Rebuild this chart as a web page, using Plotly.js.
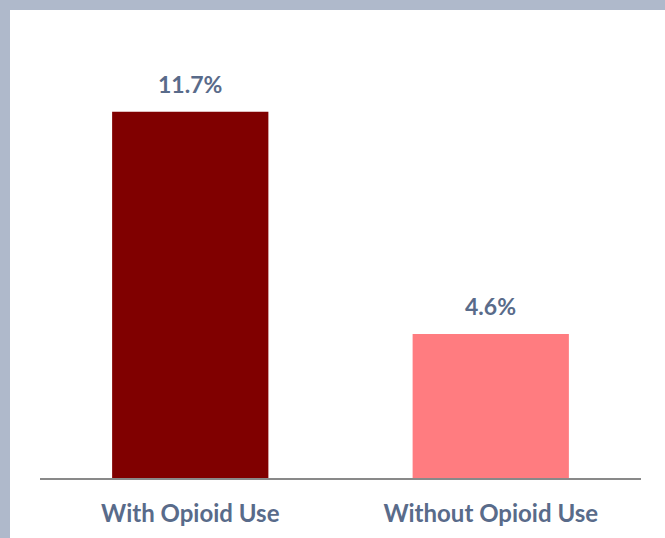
<!DOCTYPE html>
<html>
<head>
<meta charset="utf-8">
<script src="https://cdn.plot.ly/plotly-3.0.1.min.js"></script>
<style>
  html, body { margin: 0; padding: 0; background: #AFB9CB; width: 665px; height: 538px; overflow: hidden; }
  #chart { position: absolute; left: 10px; top: 10px; width: 655px; height: 528px; background: #ffffff; }
</style>
</head>
<body>
<div id="chart"></div>
<script>
const categories = ["With Opioid Use", "Without Opioid Use"];
const values = [11.7, 4.6];
const barColors = ["#800000", "#FF7C80"];
const labels = values.map(v => v.toFixed(1) + "%");

const textColor = "#596B8A";
const fontFamily = "Lato, 'Open Sans', sans-serif";

const trace = {
  type: "bar",
  x: categories,
  y: values,
  marker: { color: barColors, line: { width: 0 } },
  width: 0.52,
  hoverinfo: "none"
};

const annotations = categories.map((c, i) => ({
  x: c, y: values[i], xref: "x", yref: "y",
  text: "<b>" + labels[i] + "</b>",
  showarrow: false, yanchor: "bottom", yshift: 12,
  font: { family: fontFamily, size: 23, color: textColor }
}));

const layout = {
  width: 655, height: 528,
  margin: { l: 30, r: 24, t: 61, b: 60, pad: 0 },
  paper_bgcolor: "#ffffff",
  plot_bgcolor: "#ffffff",
  showlegend: false,
  bargap: 0.48,
  xaxis: {
    type: "category",
    range: [-0.5, 1.5],
    showgrid: false, zeroline: false,
    showline: true, linecolor: "#898989", linewidth: 1.5,
    ticks: "outside", ticklen: 14, tickcolor: "rgba(0,0,0,0)",
    tickfont: { family: fontFamily, size: 24, color: textColor, weight: "bold" }
  },
  yaxis: {
    range: [0, 13],
    visible: false,
    showgrid: false, zeroline: false
  },
  annotations: annotations
};

Plotly.newPlot("chart", [trace], layout, { displayModeBar: false, staticPlot: true });
</script>
</body>
</html>
